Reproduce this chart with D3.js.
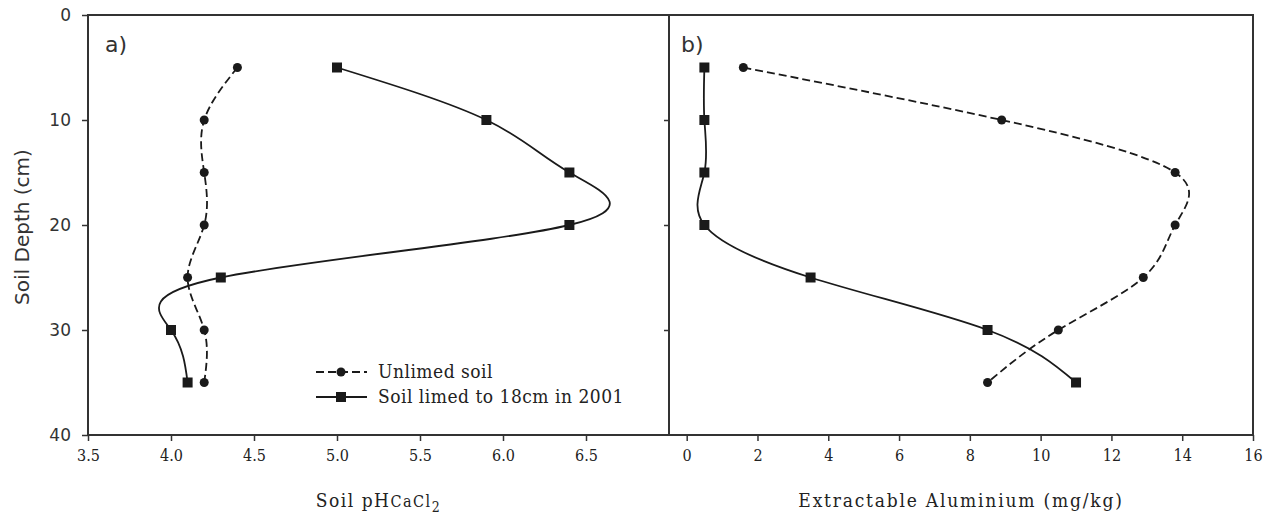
<!DOCTYPE html>
<html>
<head>
<meta charset="utf-8">
<script src="https://cdn.jsdelivr.net/npm/d3@7"></script>
<style>
  body { margin: 0; background: #fff; }
  svg { display: block; }
</style>
</head>
<body>
<div id="chart"></div>
<script>
//data
const depths = [5, 10, 15, 20, 25, 30, 35];
const phUnlimed = [4.4, 4.2, 4.2, 4.2, 4.1, 4.2, 4.2];
const phLimed = [5.0, 5.9, 6.4, 6.4, 4.3, 4.0, 4.1];
const alUnlimed = [1.6, 8.9, 13.8, 13.8, 12.9, 10.5, 8.5];
const alLimed = [0.5, 0.5, 0.5, 0.5, 3.5, 8.5, 11.0];
const depthTicks = [0, 10, 20, 30, 40];
const phTicks = [3.5, 4.0, 4.5, 5.0, 5.5, 6.0, 6.5];
const alTicks = [0, 2, 4, 6, 8, 10, 12, 14, 16];
const seriesNames = ["Unlimed soil", "Soil limed to 18cm in 2001"];

const width = 1274;
const height = 520;
const plotTop = 15;
const plotBottom = 435;
const ink = "#1a1a1a";
const serif = "'DejaVu Serif Condensed', 'DejaVu Serif', serif";
const sans = "'DejaVu Sans', Verdana, sans-serif";

const svg = d3
  .select("#chart")
  .append("svg")
  .attr("width", width)
  .attr("height", height);

//scales
const y = d3.scaleLinear().domain([0, 40]).range([plotTop, plotBottom]);
const xA = d3.scaleLinear().domain([3.5, 7.0]).range([88, 669]);
const xB = d3.scaleLinear().domain([-0.5, 16]).range([669, 1253]);

const toPoints = (values) => values.map((v, i) => ({ value: v, depth: depths[i] }));
const curve = d3.curveNatural;

//frame
svg
  .append("rect")
  .attr("x", xA.range()[0])
  .attr("y", plotTop)
  .attr("width", xB.range()[1] - xA.range()[0])
  .attr("height", plotBottom - plotTop)
  .attr("fill", "none")
  .attr("stroke", "#333")
  .attr("stroke-width", 2);
svg
  .append("line")
  .attr("x1", xA.range()[1])
  .attr("x2", xA.range()[1])
  .attr("y1", plotTop)
  .attr("y2", plotBottom)
  .attr("stroke", "#333")
  .attr("stroke-width", 2);

//y axis (panel a, labelled)
const yAxis = svg
  .append("g")
  .attr("transform", `translate(${xA.range()[0]},0)`)
  .call(d3.axisLeft(y).tickValues(depthTicks).tickSize(6).tickPadding(11));
yAxis.select(".domain").remove();
yAxis.selectAll("line").attr("stroke", "#333").attr("stroke-width", 1.5);
yAxis
  .selectAll("text")
  .attr("font-family", sans)
  .attr("font-size", 17)
  .attr("fill", "#333");

//y ticks of panel b, no labels
const yAxisB = svg
  .append("g")
  .attr("transform", `translate(${xA.range()[1]},0)`)
  .call(d3.axisLeft(y).tickValues(depthTicks.slice(1, -1)).tickSize(5).tickFormat(""));
yAxisB.select(".domain").remove();
yAxisB.selectAll("line").attr("stroke", "#333").attr("stroke-width", 1.5);

//x axes
const drawX = (scale, ticks, fmt) => {
  const g = svg
    .append("g")
    .attr("transform", `translate(0,${plotBottom})`)
    .call(d3.axisBottom(scale).tickValues(ticks).tickSize(6).tickPadding(9).tickFormat(fmt));
  g.select(".domain").remove();
  g.selectAll("line").attr("stroke", "#333").attr("stroke-width", 1.5);
  g.selectAll("text")
    .attr("font-family", serif)
    .attr("font-size", 16)
    .attr("fill", "#222");
};
drawX(xA, phTicks, d3.format(".1f"));
drawX(xB, alTicks, d3.format("d"));

//axis titles
svg
  .append("text")
  .attr("transform", `translate(29,${(plotTop + plotBottom) / 2 + 2}) rotate(-90)`)
  .attr("text-anchor", "middle")
  .attr("font-family", sans)
  .attr("font-size", 20)
  .attr("fill", "#333")
  .text("Soil Depth (cm)");

const phTitle = svg
  .append("text")
  .attr("x", (xA.range()[0] + xA.range()[1]) / 2)
  .attr("y", 507)
  .attr("text-anchor", "middle")
  .attr("font-family", serif)
  .attr("font-size", 19)
  .attr("letter-spacing", 1.5)
  .attr("fill", "#222");
phTitle.append("tspan").text("Soil pH");
phTitle.append("tspan").attr("font-size", 16).text("CaCl");
phTitle.append("tspan").attr("font-size", 14).attr("dy", 5).text("2");

svg
  .append("text")
  .attr("x", (xB.range()[0] + xB.range()[1]) / 2)
  .attr("y", 507)
  .attr("text-anchor", "middle")
  .attr("font-family", serif)
  .attr("font-size", 19)
  .attr("letter-spacing", 1.8)
  .attr("fill", "#222")
  .text("Extractable Aluminium (mg/kg)");

//panel letters
svg
  .append("text")
  .attr("x", 105)
  .attr("y", 52)
  .attr("font-family", sans)
  .attr("font-size", 22)
  .attr("fill", "#333")
  .text("a)");
svg
  .append("text")
  .attr("x", 681)
  .attr("y", 52)
  .attr("font-family", sans)
  .attr("font-size", 22)
  .attr("fill", "#333")
  .text("b)");

//series
const drawSeries = (scale, values, dashed, marker) => {
  const pts = toPoints(values);
  const line = d3
    .line()
    .x((d) => scale(d.value))
    .y((d) => y(d.depth))
    .curve(curve);
  svg
    .append("path")
    .datum(pts)
    .attr("d", line)
    .attr("fill", "none")
    .attr("stroke", ink)
    .attr("stroke-width", 1.8)
    .attr("stroke-dasharray", dashed ? "8,4" : null);
  if (marker === "circle") {
    svg
      .append("g")
      .selectAll("circle")
      .data(pts)
      .enter()
      .append("circle")
      .attr("cx", (d) => scale(d.value))
      .attr("cy", (d) => y(d.depth))
      .attr("r", 4.5)
      .attr("fill", ink);
  } else {
    svg
      .append("g")
      .selectAll("rect")
      .data(pts)
      .enter()
      .append("rect")
      .attr("x", (d) => scale(d.value) - 5)
      .attr("y", (d) => y(d.depth) - 5)
      .attr("width", 10)
      .attr("height", 10)
      .attr("fill", ink);
  }
};
drawSeries(xA, phUnlimed, true, "circle");
drawSeries(xA, phLimed, false, "square");
drawSeries(xB, alUnlimed, true, "circle");
drawSeries(xB, alLimed, false, "square");

//legend
const legend = svg.append("g").attr("transform", "translate(316,372)");
seriesNames.forEach((name, i) => {
  const row = legend.append("g").attr("transform", `translate(0,${i * 25})`);
  row
    .append("line")
    .attr("x1", 0)
    .attr("x2", 51)
    .attr("stroke", ink)
    .attr("stroke-width", 1.8)
    .attr("stroke-dasharray", i === 0 ? "8,4" : null);
  if (i === 0) {
    row.append("circle").attr("cx", 25).attr("r", 4.5).attr("fill", ink);
  } else {
    row
      .append("rect")
      .attr("x", 20)
      .attr("y", -5)
      .attr("width", 10)
      .attr("height", 10)
      .attr("fill", ink);
  }
  row
    .append("text")
    .attr("x", 62)
    .attr("y", 6)
    .attr("font-family", serif)
    .attr("font-size", 19)
    .attr("letter-spacing", 0.5)
    .attr("fill", "#222")
    .text(name);
});
</script>
</body>
</html>
